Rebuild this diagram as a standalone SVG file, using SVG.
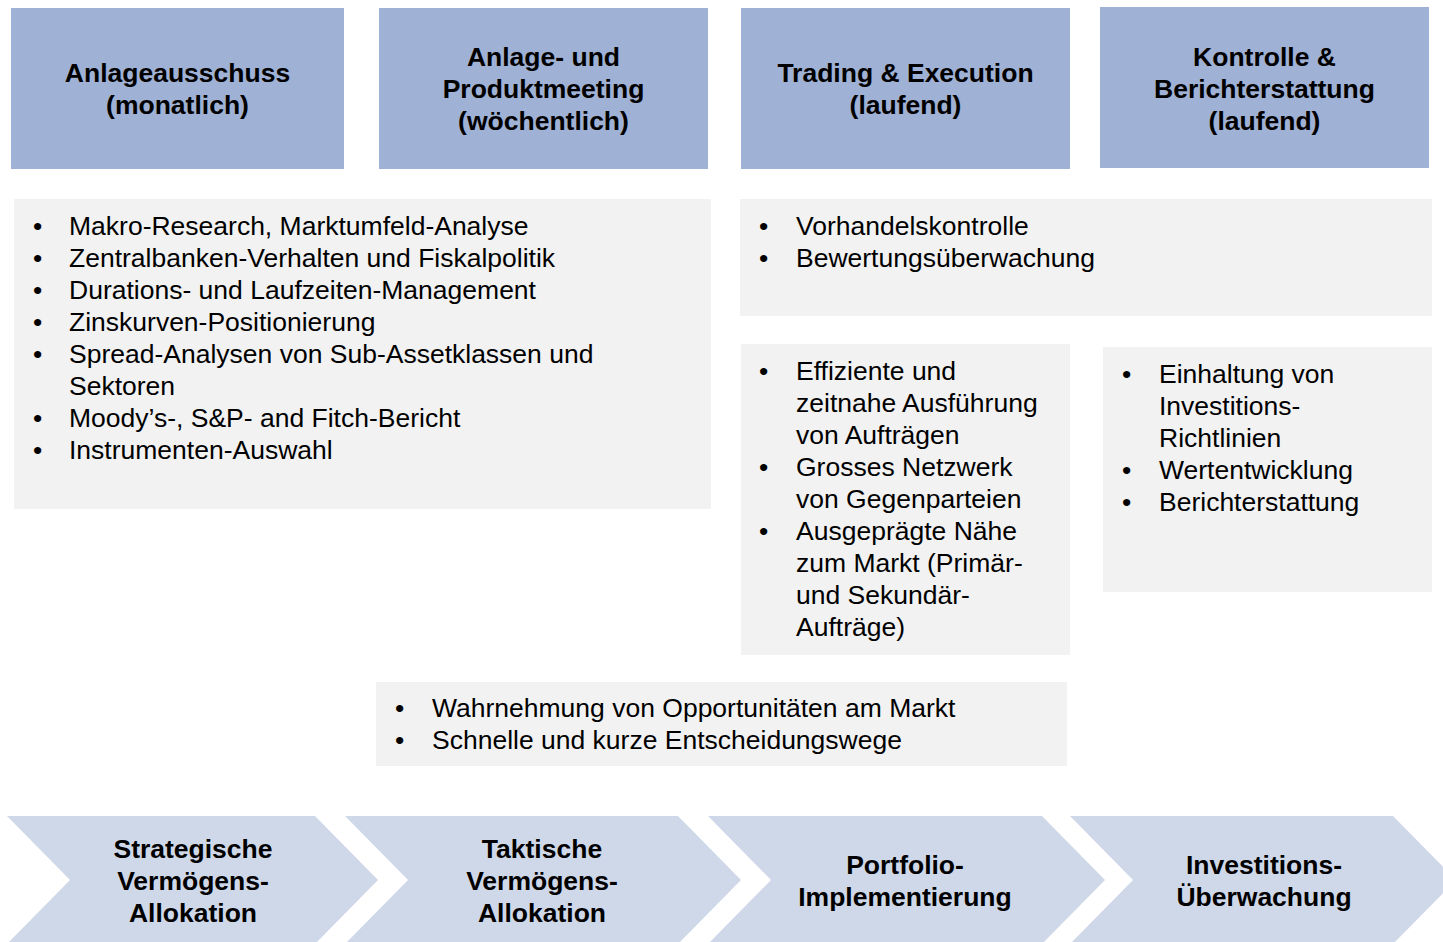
<svg xmlns="http://www.w3.org/2000/svg" width="1443" height="942" viewBox="0 0 1443 942">
<style>
.hdr{fill:#9FB1D4}
.box{fill:#F2F2F2}
.chev{fill:#CFD8E9}
text{font-family:"Liberation Sans",Arial,sans-serif;font-size:26.5px;fill:#000}
.b{font-weight:bold;text-anchor:middle}
</style>
<rect width="1443" height="942" fill="#fff"/>
<g id="header1"><rect class="hdr" x="11" y="8" width="333" height="161"/>
<text class="b" x="177.5" y="81.5">Anlageausschuss</text><text class="b" x="177.5" y="113.5">(monatlich)</text></g>
<g id="header2"><rect class="hdr" x="379" y="8" width="329" height="161"/>
<text class="b" x="543.5" y="65.5">Anlage- und</text><text class="b" x="543.5" y="97.5">Produktmeeting</text><text class="b" x="543.5" y="129.5">(wöchentlich)</text></g>
<g id="header3"><rect class="hdr" x="741" y="8" width="329" height="161"/>
<text class="b" x="905.5" y="81.5">Trading &amp; Execution</text><text class="b" x="905.5" y="113.5">(laufend)</text></g>
<g id="header4"><rect class="hdr" x="1100" y="7" width="329" height="161"/>
<text class="b" x="1264.5" y="65.5">Kontrolle &amp;</text><text class="b" x="1264.5" y="97.5">Berichterstattung</text><text class="b" x="1264.5" y="129.5">(laufend)</text></g>

<g id="boxA"><rect class="box" x="14" y="199" width="697" height="310"/>
<text x="33" y="234.5">•</text><text x="69" y="234.5">Makro-Research, Marktumfeld-Analyse</text>
<text x="33" y="266.5">•</text><text x="69" y="266.5">Zentralbanken-Verhalten und Fiskalpolitik</text>
<text x="33" y="298.5">•</text><text x="69" y="298.5">Durations- und Laufzeiten-Management</text>
<text x="33" y="330.5">•</text><text x="69" y="330.5">Zinskurven-Positionierung</text>
<text x="33" y="362.5">•</text><text x="69" y="362.5">Spread-Analysen von Sub-Assetklassen und</text>
<text x="69" y="394.5">Sektoren</text>
<text x="33" y="426.5">•</text><text x="69" y="426.5">Moody’s-, S&amp;P- and Fitch-Bericht</text>
<text x="33" y="458.5">•</text><text x="69" y="458.5">Instrumenten-Auswahl</text></g>

<g id="boxB"><rect class="box" x="740" y="199" width="692" height="117"/>
<text x="759" y="234.5">•</text><text x="796" y="234.5">Vorhandelskontrolle</text>
<text x="759" y="266.5">•</text><text x="796" y="266.5">Bewertungsüberwachung</text></g>

<g id="boxC"><rect class="box" x="741" y="344" width="329" height="311"/>
<text x="759" y="379.5">•</text><text x="796" y="379.5">Effiziente und</text>
<text x="796" y="411.5">zeitnahe Ausführung</text>
<text x="796" y="443.5">von Aufträgen</text>
<text x="759" y="475.5">•</text><text x="796" y="475.5">Grosses Netzwerk</text>
<text x="796" y="507.5">von Gegenparteien</text>
<text x="759" y="539.5">•</text><text x="796" y="539.5">Ausgeprägte Nähe</text>
<text x="796" y="571.5">zum Markt (Primär-</text>
<text x="796" y="603.5">und Sekundär-</text>
<text x="796" y="635.5">Aufträge)</text></g>

<g id="boxD"><rect class="box" x="1103" y="347" width="329" height="245"/>
<text x="1122" y="382.5">•</text><text x="1159" y="382.5">Einhaltung von</text>
<text x="1159" y="414.5">Investitions-</text>
<text x="1159" y="446.5">Richtlinien</text>
<text x="1122" y="478.5">•</text><text x="1159" y="478.5">Wertentwicklung</text>
<text x="1122" y="510.5">•</text><text x="1159" y="510.5">Berichterstattung</text></g>

<g id="boxE"><rect class="box" x="376" y="682" width="691" height="84"/>
<text x="395" y="716.5">•</text><text x="432" y="716.5">Wahrnehmung von Opportunitäten am Markt</text>
<text x="395" y="748.5">•</text><text x="432" y="748.5">Schnelle und kurze Entscheidungswege</text></g>

<g id="chev1"><polygon class="chev" points="7,816 315,816 378,880 315,944 7,944 70,880"/>
<text class="b" x="193" y="857.5">Strategische</text><text class="b" x="193" y="889.5">Vermögens-</text><text class="b" x="193" y="921.5">Allokation</text></g>
<g id="chev2"><polygon class="chev" points="345,816 678,816 741,880 678,944 345,944 408,880"/>
<text class="b" x="542" y="857.5">Taktische</text><text class="b" x="542" y="889.5">Vermögens-</text><text class="b" x="542" y="921.5">Allokation</text></g>
<g id="chev3"><polygon class="chev" points="708,816 1042,816 1105,880 1042,944 708,944 771,880"/>
<text class="b" x="905" y="873.5">Portfolio-</text><text class="b" x="905" y="905.5">Implementierung</text></g>
<g id="chev4"><polygon class="chev" points="1070,816 1393,816 1456,880 1393,944 1070,944 1133,880"/>
<text class="b" x="1264" y="873.5">Investitions-</text><text class="b" x="1264" y="905.5">Überwachung</text></g>
<g id="connectors"/>
</svg>
